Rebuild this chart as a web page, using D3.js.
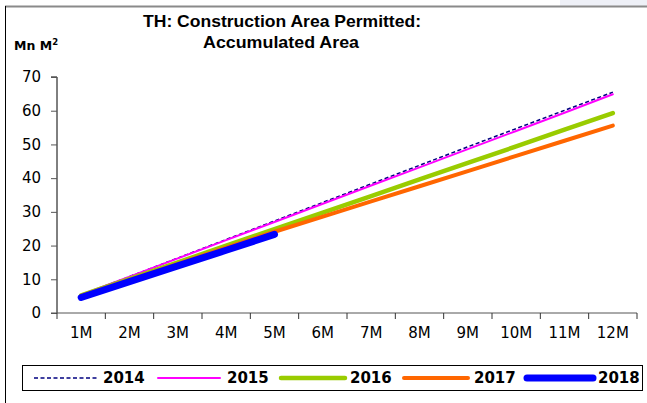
<!DOCTYPE html>
<html>
<head>
<meta charset="utf-8">
<script src="https://cdn.jsdelivr.net/npm/d3@7"></script>
<style>
  body { margin: 0; background: #fff; }
  svg { display: block; font-family: "DejaVu Sans", sans-serif; }
</style>
</head>
<body>
<svg id="chart" width="647" height="403"></svg>
<script>
const months = ["1M", "2M", "3M", "4M", "5M", "6M", "7M", "8M", "9M", "10M", "11M", "12M"];
const yTicks = [0, 10, 20, 30, 40, 50, 60, 70];

const y2014 = [5.3, 10.8, 16.3, 21.8, 27.3, 32.8, 38.3, 43.8, 49.3, 54.7, 60.1, 65.5];
const y2015 = [5.4, 10.8, 16.2, 21.6, 27.0, 32.4, 37.8, 43.2, 48.6, 54.0, 59.4, 64.9];
const y2016 = [5.2, 10.1, 15.0, 20.0, 24.9, 29.8, 34.7, 39.6, 44.5, 49.4, 54.4, 59.3];
const y2017 = [5.0, 9.8, 14.6, 19.4, 24.1, 28.6, 33.1, 37.6, 42.1, 46.6, 51.1, 55.6];
const y2018 = [4.6, 9.3, 14.0, 18.6, 23.3];

const series = [
  { name: "2014", values: y2014, color: "#000080", width: 1.5, dash: "4,2.5" },
  { name: "2015", values: y2015, color: "#ff00ff", width: 2, dash: null },
  { name: "2016", values: y2016, color: "#99cc00", width: 4.5, dash: null },
  { name: "2017", values: y2017, color: "#ff6600", width: 4, dash: null },
  { name: "2018", values: y2018, color: "#0000ff", width: 7, dash: null }
];

const svg = d3.select("#chart");
const plotLeft = 57, plotRight = 637, plotTop = 77, plotBottom = 313;

// frame
svg.append("rect").attr("x", 560).attr("y", 0).attr("width", 87).attr("height", 6)
  .attr("fill", "#eef0f7");
svg.append("line").attr("x1", 5).attr("x2", 647).attr("y1", 6.5).attr("y2", 6.5)
  .attr("stroke", "#8a8a8a").attr("stroke-width", 2);
svg.append("line").attr("x1", 5.5).attr("x2", 5.5).attr("y1", 6).attr("y2", 403)
  .attr("stroke", "#000").attr("stroke-width", 1);

const x = d3.scalePoint().domain(months).range([plotLeft, plotRight]).padding(0.5);
const y = d3.scaleLinear().domain([0, 70]).range([plotBottom, plotTop]);

// title
const title = svg.append("text").attr("y", 27)
  .attr("text-anchor", "middle").attr("font-size", 16.5).attr("font-weight", "bold")
  .attr("font-family", "Liberation Sans, Arial, sans-serif");
title.append("tspan").attr("x", 282).attr("textLength", 278).attr("lengthAdjust", "spacingAndGlyphs")
  .text("TH: Construction Area Permitted:");
title.append("tspan").attr("x", 281).attr("dy", 21).attr("textLength", 156).attr("lengthAdjust", "spacingAndGlyphs")
  .text("Accumulated Area");

const unit = svg.append("text").attr("x", 14).attr("y", 50)
  .attr("font-size", 12.5).attr("font-weight", "bold").text("Mn M");
unit.append("tspan").attr("font-size", 8.5).attr("dy", -5).text("2");

// y axis
const yAxis = svg.append("g").attr("transform", `translate(${plotLeft},0)`)
  .call(d3.axisLeft(y).tickValues(yTicks).tickSize(6).tickPadding(10));
yAxis.select(".domain").attr("stroke", "#000").attr("d", `M-6,${plotTop}H0V${plotBottom}`);
yAxis.selectAll("line").attr("stroke", "#555");
yAxis.selectAll("text").attr("font-size", 15).attr("fill", "#000")
  .attr("font-family", "DejaVu Sans, sans-serif");

// x axis with ticks on band borders
const band = (plotRight - plotLeft) / months.length;
const xAxis = svg.append("g").attr("transform", `translate(0,${plotBottom})`);
xAxis.append("line").attr("x1", plotLeft - 6).attr("x2", plotRight).attr("y1", 0).attr("y2", 0)
  .attr("stroke", "#555");
xAxis.selectAll("line.tk").data(d3.range(months.length + 1)).join("line")
  .attr("class", "tk")
  .attr("x1", i => plotLeft + i * band).attr("x2", i => plotLeft + i * band)
  .attr("y1", 0).attr("y2", 6).attr("stroke", "#333");
xAxis.selectAll("text").data(months).join("text")
  .attr("x", d => x(d)).attr("y", 25).attr("text-anchor", "middle")
  .attr("font-size", 15).text(d => d);

// lines
const line = d3.line().x((d, i) => x(months[i])).y(d => y(d));
svg.selectAll("path.series").data(series).join("path")
  .attr("class", "series")
  .attr("d", d => line(d.values))
  .attr("fill", "none")
  .attr("stroke", d => d.color)
  .attr("stroke-width", d => d.width)
  .attr("stroke-linecap", d => d.dash ? "butt" : "round")
  .attr("stroke-dasharray", d => d.dash);

// legend
svg.append("rect").attr("x", 22.5).attr("y", 365.5).attr("width", 620).attr("height", 25)
  .attr("fill", "#fff").attr("stroke", "#000");
const legendX = [[34, 97, 103], [158, 220, 227], [281, 345, 350], [404, 468, 474], [527, 593, 598]];
const lg = svg.selectAll("g.leg").data(series).join("g").attr("class", "leg");
lg.append("line")
  .attr("x1", (d, i) => legendX[i][0]).attr("x2", (d, i) => legendX[i][1])
  .attr("y1", 378).attr("y2", 378)
  .attr("stroke", d => d.color)
  .attr("stroke-width", d => d.width)
  .attr("stroke-linecap", d => d.dash ? "butt" : "round")
  .attr("stroke-dasharray", d => d.dash);
lg.append("text")
  .attr("x", (d, i) => legendX[i][2]).attr("y", 383)
  .attr("font-size", 15).attr("font-weight", "bold").text(d => d.name);
</script>
</body>
</html>
